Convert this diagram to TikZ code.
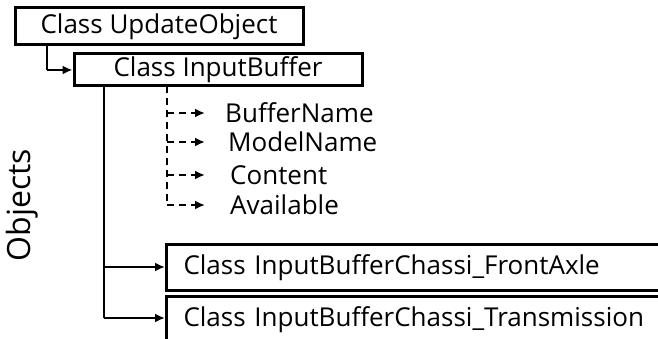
\documentclass[tikz,border=0pt]{standalone}
\usepackage{fontspec}
\setmainfont{Open Sans}
\usetikzlibrary{arrows.meta}
\begin{document}
\begin{tikzpicture}[x=1pt,y=1pt,
  classbox/.style={draw, line width=3pt, inner sep=0pt, font=\fontsize{26}{30}\selectfont},
  widebox/.style={draw, line width=3pt, anchor=north west, align=left,
    text width=480pt, inner xsep=17pt, inner ysep=0pt, minimum height=46pt,
    font=\fontsize{26}{30}\selectfont},
  member/.style={anchor=west, inner sep=0pt, font=\fontsize{26}{30}\selectfont},
  solidlink/.style={line width=2.8pt, -{Latex[length=10pt,width=9pt]}},
  dashlink/.style={line width=2.8pt, dash pattern=on 7pt off 5pt, -{Latex[length=10pt,width=9pt]}},
  dashtrunk/.style={line width=2.8pt, dash pattern=on 7pt off 5pt}
]
\useasboundingbox (0,0) rectangle (658,338);

% class hierarchy
\node[classbox, minimum width=288pt, minimum height=37pt] (upd) at (159,311.5) {Class UpdateObject};
\node[classbox, minimum width=288pt, minimum height=32pt] (ib) at (218,268) {Class InputBuffer};
\node[widebox] (fa) at (165,95) {Class InputBufferChassi\_FrontAxle};
\node[widebox] (tr) at (165,43) {Class InputBufferChassi\_Transmission};

% members of InputBuffer
\node[member] (bn) at (225,225) {BufferName};
\node[member] (mn) at (228,196) {ModelName};
\node[member] (ct) at (230,163) {Content};
\node[member] (av) at (230,133) {Available};

% side label
\node[rotate=90, font=\fontsize{32}{36}\selectfont, inner sep=0pt] (obj) at (22,133) {Objects};

% inheritance links
\coordinate (c1) at (47,268);
\draw[line width=2.8pt] (upd.south -| c1) -- (c1);
\draw[solidlink] (c1) -- (ib.west);

\coordinate (t0) at (104,252);
\coordinate (t1) at (104,71);
\coordinate (t2) at (104,20);
\draw[line width=2.8pt] (t0) -- (t2);
\draw[solidlink] (t1) -- (fa.west |- t1);
\draw[solidlink] (t2) -- (tr.west |- t2);

% member links
\coordinate (d0) at (167,252);
\coordinate (d4) at (167,133);
\draw[dashtrunk] (d0) -- (d4);
\draw[dashlink] (167,225) -- ([xshift=-20pt]bn.west);
\draw[dashlink] (167,196) -- ([xshift=-23pt]mn.west);
\draw[dashlink] (167,163) -- ([xshift=-25pt]ct.west);
\draw[dashlink] (d4) -- ([xshift=-25pt]av.west);
\end{tikzpicture}
\end{document}
